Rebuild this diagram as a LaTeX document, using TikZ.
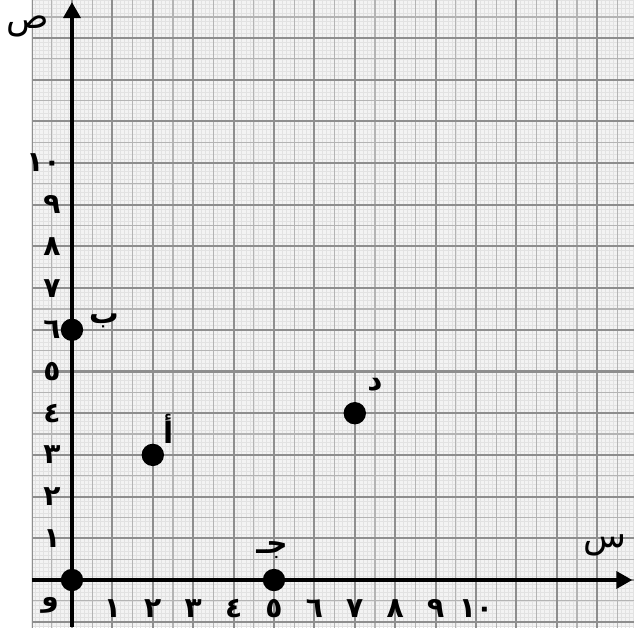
\documentclass[tikz,border=0pt]{standalone}
\usepackage{fontspec}
\newfontfamily\arabicfont[Script=Arabic]{DejaVu Sans}
\TeXXeTstate=1
\usetikzlibrary{arrows.meta}
\definecolor{paper}{HTML}{F3F3F3}
\definecolor{fineline}{HTML}{E2E2E2}
\definecolor{halfline}{HTML}{B4B4B4}
\definecolor{unitline}{HTML}{8E8E8E}
\tikzset{
  dot/.style={circle, fill=black, minimum size=0.56cm, inner sep=0pt},
  tick/.style={font=\arabicfont\bfseries\fontsize{20}{24}\selectfont, inner sep=1pt},
  ptlabel/.style={font=\arabicfont\bfseries\fontsize{21}{25}\selectfont, inner sep=1pt},
  axlabel/.style={font=\arabicfont\fontsize{25}{30}\selectfont, inner sep=1pt}
}
\begin{document}
\begin{tikzpicture}[x=1.01cm, y=1.0425cm, >={Triangle[length=0.4cm, width=0.42cm]}]
    \useasboundingbox (-1.782,-1.199) rectangle (13.911,13.909);
    % Graph paper
    \fill[paper] (-0.99,-1.13) rectangle (13.911,13.909);
    \begin{scope}
      \clip (-0.99,-1.13) rectangle (13.911,13.909);
      \draw[fineline, line width=0.3pt, step=0.1] (-1,-1.2) grid (14,14);
      \draw[halfline, line width=0.9pt, step=0.5] (-1,-1.2) grid (14,14);
      \draw[unitline, line width=1.5pt, step=1] (-1,-1.2) grid (14,14);
    \end{scope}

    % Axes
    \coordinate (xstart) at (-0.99,0);
    \coordinate (xend) at (13.87,0);
    \coordinate (ystart) at (0,-1.13);
    \coordinate (yend) at (0,13.86);
    \draw[->, line width=2.8pt] (xstart) -- (xend);
    \draw[->, line width=2.8pt] (ystart) -- (yend);

    % Axis labels
    \node[axlabel] (xname) at (13.19,0.84) {\beginR س\endR};
    \node[axlabel] (yname) at (-1.1,13.28) {\beginR ص\endR};
    \node[tick] (origin) at (-0.54,-0.62) {\beginR و\endR};
    \foreach \n/\d in {1/١,2/٢,3/٣,4/٤,5/٥,6/٦,7/٧,8/٨,9/٩,10/١٠} {
      \node[tick] (xl\n) at (\n,-0.68) {\d};
      \node[tick, anchor=east] (yl\n) at (-0.24,\n) {\d};
    }

    % Points
    \node[dot] (o) at (0,0) {};
    \node[dot] (b) at (0,6) {};
    \node[dot] (a) at (2,3) {};
    \node[dot] (c) at (5,0) {};
    \node[dot] (d) at (7,4) {};

    % Point labels
    \node[ptlabel] (blabel) at (0.79,6.22) {\beginR ب\endR};
    \node[ptlabel] (alabel) at (2.38,3.62) {\beginR أ\endR};
    \node[ptlabel] (clabel) at (4.95,0.72) {\beginR جـ\endR};
    \node[ptlabel] (dlabel) at (7.5,4.68) {\beginR د\endR};
  \end{tikzpicture}
\end{document}
